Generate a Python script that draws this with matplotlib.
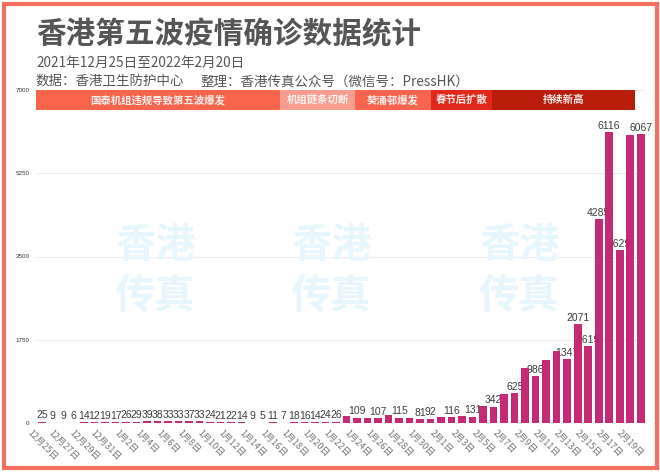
#!/usr/bin/env python3
"""Hong Kong fifth wave daily confirmed cases, bar chart with phase band."""

import matplotlib

matplotlib.use("Agg")
import matplotlib.pyplot as plt
import pandas as pd
from matplotlib.patches import Rectangle

plt.rcParams["font.family"] = ["Noto Sans CJK SC", "DejaVu Sans"]

W, H = 660, 473

dates = pd.date_range("2021-12-25", "2022-02-20")
# one bar per day, 58 in all
cases = [
    25, 9, 9, 6, 14, 12, 19, 17, 26, 29, 39, 38, 33, 33, 37, 33, 24, 21, 22, 14,
    9, 5, 11, 7, 18, 16, 14, 24, 26, 140, 109, 113, 107, 164, 115, 110, 81, 92,
    130, 116, 142, 131, 351, 342, 614, 625, 1161, 986, 1325, 1510, 1347, 2071,
    1619, 4285, 6116, 3629, 6063, 6067,
]
hidden_labels = [29, 31, 33, 35, 38, 40, 42, 44, 46, 48, 49, 56]
y_ticks = [0, 1750, 3500, 5250, 7000]

phase_names = ["国泰机组违规导致第五波爆发", "机组链条切断", "葵涌邨爆发", "春节后扩散", "持续新高"]
phase_edges = [-0.57, 22.67, 29.8, 37.0, 42.86, 56.5]
phase_colors = ["#f8644c", "#fa9c8e", "#f8654e", "#e0291b", "#b81c0a"]


def main() -> None:
    fig = plt.figure(figsize=(W / 100, H / 100), dpi=100)
    fig.patch.set_facecolor("white")
    ax = fig.add_axes([36 / W, 1 - 423 / H, 610 / W, 333 / H])
    ax.set_xlim(-0.57, 57.5)
    ax.set_ylim(0, 7000)
    for s in ax.spines.values():
        s.set_visible(False)
    ax.set_facecolor("none")

    xs = list(range(len(cases)))
    ax.bar(xs, cases, width=0.72, color="#c4216f", alpha=0.96, zorder=3)
    ax.grid(axis="y", color="#ececec", lw=0.8, zorder=0)
    ax.set_axisbelow(True)

    for x, v in zip(xs, cases):
        if x in hidden_labels:
            continue
        ax.annotate(str(v), (x, v), xytext=(0, 1), textcoords="offset points", ha="center",
                    va="bottom", fontsize=7.5, family="Liberation Sans", color="#3c3c3c", zorder=2)

    ax.set_yticks(y_ticks)
    ax.set_yticklabels([str(t) for t in y_ticks], fontsize=4.5, color="#333", family="Liberation Sans")
    ax.tick_params(axis="y", length=0, pad=4.5)
    ax.set_xticks(xs[::2])
    ax.set_xticklabels([f"{d.month}月{d.day}日" for d in dates[::2]], rotation=-45, ha="center",
                       fontsize=6.6, color="#777")
    ax.tick_params(axis="x", length=0, pad=4)

    # phase band along the top of the plot
    band_h = 420
    for i, name in enumerate(phase_names):
        x0, x1 = phase_edges[i], phase_edges[i + 1]
        ax.bar(x0, band_h, width=x1 - x0, bottom=7000 - band_h, align="edge",
               color=phase_colors[i], zorder=4, clip_on=False)
        ax.text((x0 + x1) / 2, 7000 - band_h / 2, name, ha="center", va="center",
                fontsize=7.5, fontweight="bold", color="white", alpha=0.9, zorder=5)

    def figtext(px, py, text, **kw):
        fig.text(px / W, 1 - py / H, text, va="center", **kw)

    figtext(36, 34, "香港第五波疫情确诊数据统计", fontsize=21.3, fontweight="bold", color="#555")
    figtext(36, 63, "2021年12月25日至2022年2月20日", fontsize=9.8, color="#555")
    figtext(36, 82, "数据：香港卫生防护中心", fontsize=9.7, color="#555")
    figtext(200, 82, "整理：香港传真公众号（微信号：PressHK）", fontsize=9.7, color="#555")

    # watermark
    for cx in (155, 331, 519):
        fig.text(cx / W, 1 - 271 / H, "香港\n传真", ha="center", va="center", fontsize=29,
                 fontweight="bold", linespacing=1.3, color="#e6f6fc", zorder=0)

    fig.add_artist(Rectangle((3.5 / W, 1 - 468 / H), 653 / W, 464 / H, transform=fig.transFigure,
                             fill=False, ec="#f4705e", lw=3))

    fig.savefig("out.png", dpi=100, facecolor="white")
    plt.close(fig)


if __name__ == "__main__":
    main()
